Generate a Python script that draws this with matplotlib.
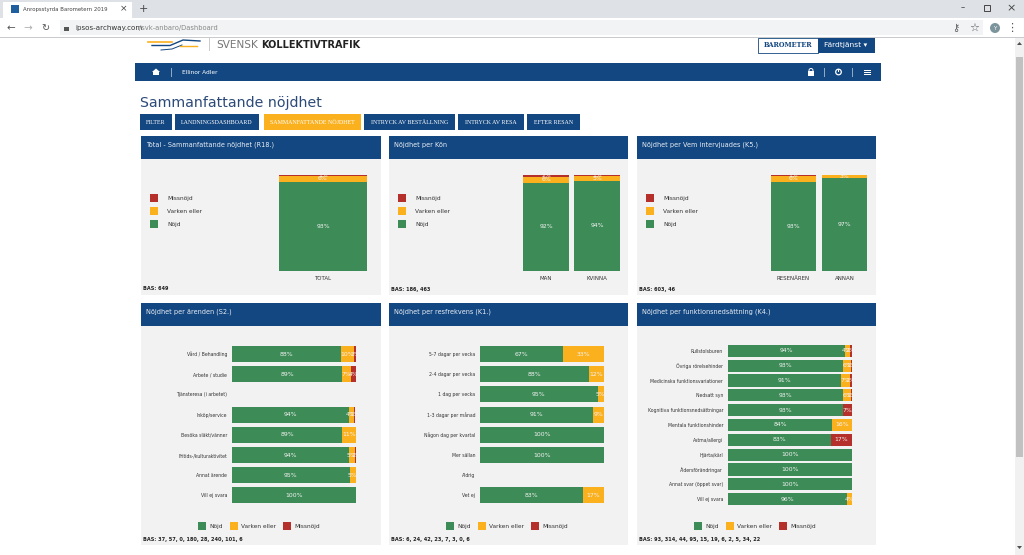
import matplotlib
matplotlib.use("Agg")
import matplotlib.pyplot as plt
from matplotlib.patches import Rectangle, Polygon, Circle

W, H = 1024, 555

NAVY = "#134781"
GREEN = "#3d8b57"
ORANGE = "#fbb01e"
RED = "#b5302a"
PANEL = "#f2f2f2"

# top row
total_cats = ["TOTAL"]
total_nojd = [93]
total_varken = [6]
total_miss = [1]

kon_cats = ["MAN", "KVINNA"]
kon_nojd = [92, 94]
kon_varken = [6, 5]
kon_miss = [2, 1]

vem_cats = ["RESENÄREN", "ANNAN"]
vem_nojd = [93, 97]
vem_varken = [6, 3]
vem_miss = [1, 0]

# bottom row
arende_cats = ["Vård / Behandling", "Arbete / studie", "Tjänsteresa (i arbetet)", "Inköp/service",
               "Besöka släkt/vänner", "Fritids-/kulturaktivitet", "Annat ärende", "Vill ej svara"]
arende_nojd = [88, 89, 0, 94, 89, 94, 95, 100]
arende_varken = [10, 7, 0, 4, 11, 5, 5, 0]
arende_miss = [3, 4, 0, 1, 0, 2, 0, 0]

frekvens_cats = ["5-7 dagar per vecka", "2-4 dagar per vecka", "1 dag per vecka", "1-3 dagar per månad",
                 "Någon dag per kvartal", "Mer sällan", "Aldrig", "Vet ej"]
frekvens_nojd = [67, 88, 95, 91, 100, 100, 0, 83]
frekvens_varken = [33, 12, 5, 9, 0, 0, 0, 17]
frekvens_miss = [0, 0, 0, 0, 0, 0, 0, 0]

funk_cats = ["Rullstolsburen", "Övriga rörelsehinder", "Medicinska funktionsvariationer", "Nedsatt syn",
             "Kognitiva funktionsnedsättningar", "Mentala funktionshinder", "Astma/allergi", "Hjärta/kärl",
             "Åldersförändringar", "Annat svar (öppet svar)", "Vill ej svara"]
funk_nojd = [94, 93, 91, 93, 93, 84, 83, 100, 100, 100, 96]
funk_varken = [4, 6, 7, 6, 0, 16, 0, 0, 0, 0, 4]
funk_miss = [2, 1, 2, 1, 7, 0, 17, 0, 0, 0, 0]

tabs = ["FILTER", "LANDNINGSDASHBOARD", "SAMMANFATTANDE NÖJDHET", "INTRYCK AV BESTÄLLNING",
        "INTRYCK AV RESA", "EFTER RESAN"]
tab_left = [140, 175, 264, 364, 458, 527]
tab_right = [172, 259, 361, 455, 524, 580]


def box(x0, y0, x1, y1, color, **kw):
    bg.add_patch(Rectangle((x0, y0), x1 - x0, y1 - y0, facecolor=color, edgecolor="none", **kw))


def label(x, y, s, size=4.5, color="#333333", ha="left", **kw):
    bg.text(x, y, s, fontsize=size, color=color, ha=ha, va="center", **kw)


def new_axes(x0, y0, x1, y1):
    ax = fig.add_axes([x0 / W, 1 - y1 / H, (x1 - x0) / W, (y1 - y0) / H])
    ax.patch.set_alpha(0)
    for s in ax.spines.values():
        s.set_visible(False)
    ax.tick_params(length=0, pad=3.5, labelsize=3.35, labelcolor="#333333")
    return ax


def put_pct(ax, bars, horizontal):
    for b in bars:
        if horizontal:
            v = b.get_width()
            x, y = b.get_x() + v / 2, b.get_y() + b.get_height() / 2
        else:
            v = b.get_height()
            x, y = b.get_x() + b.get_width() / 2, b.get_y() + v / 2
        if v > 0:
            ax.text(x, y, f"{v}%", color="#f4f4f4", fontsize=4.4, ha="center", va="center")


def column_chart(x0, x1, cats, nojd, varken, miss, leg_x, width=0.9):
    ax = new_axes(x0, 175, x1, 271)
    a = ax.bar(cats, nojd, width=width, color=GREEN, label="Nöjd")
    bottom = [n for n in nojd]
    b = ax.bar(cats, varken, width=width, bottom=bottom, color=ORANGE, label="Varken eller")
    bottom = [n + v for n, v in zip(nojd, varken)]
    c = ax.bar(cats, miss, width=width, bottom=bottom, color=RED, label="Missnöjd")
    ax.set_ylim(0, 100)
    ax.set_xlim(-0.5, len(cats) - 0.5)
    ax.set_yticks([])
    ax.tick_params(axis="x", labelsize=3.95, pad=3.3)
    for bars in (a, b, c):
        put_pct(ax, bars, False)
    ax.legend(handles=[c, b, a], loc="center left", bbox_to_anchor=(leg_x / W, 1 - 211 / H),
              bbox_transform=fig.transFigure, frameon=False, fontsize=4.2, labelcolor="#333333",
              handlelength=1.4, handleheight=1.72, handletextpad=1.55, labelspacing=0.91,
              borderpad=0, borderaxespad=0)


def row_chart(x0, x1, y0, y1, cats, nojd, varken, miss, height, leg_x):
    ax = new_axes(x0, y0, x1, y1)
    a = ax.barh(cats, nojd, height=height, color=GREEN, label="Nöjd")
    b = ax.barh(cats, varken, height=height, left=nojd, color=ORANGE, label="Varken eller")
    left = [n + v for n, v in zip(nojd, varken)]
    c = ax.barh(cats, miss, height=height, left=left, color=RED, label="Missnöjd")
    ax.set_xlim(0, 100)
    ax.set_ylim(len(cats) - 0.5, -0.5)
    ax.set_xticks([])
    for bars in (a, b, c):
        put_pct(ax, bars, True)
    ax.legend(handles=[a, b, c], loc="center left", bbox_to_anchor=(leg_x / W, 1 - 526 / H),
              bbox_transform=fig.transFigure, frameon=False, ncol=3, fontsize=4.2, labelcolor="#333333",
              handlelength=1.4, handleheight=1.72, handletextpad=0.55, columnspacing=1.2,
              borderpad=0, borderaxespad=0)


fig = plt.figure(figsize=(W / 100, H / 100), dpi=100, facecolor="white")
bg = fig.add_axes([0, 0, 1, 1])
bg.set_xlim(0, W)
bg.set_ylim(H, 0)
bg.axis("off")

# browser chrome
box(0, 0, W, 18, "#dee1e6")
box(3, 2, 132, 18, "white")
box(0, 18, W, 37, "white")
box(60, 20, 983, 35, "#f1f3f4")
box(0, 37, W, 38, "#c8cacd")
box(11, 5, 19, 13, "#1f5f9e")
label(23, 9, "Anropsstyrda Barometern 2019", size=3.9, color="#444444")
label(124, 9, "×", size=6.5, color="#444444", ha="center")
label(143, 9, "+", size=8, color="#444444", ha="center")
label(11, 28, "←", size=7.5, color="#555555", ha="center")
label(28, 28, "→", size=7.5, color="#b0b0b0", ha="center")
label(45, 28, "↻", size=7, color="#555555", ha="center")
box(64, 27, 69, 31, "#555555")
label(75, 28, "ipsos-archway.com", size=5.1, color="#333333")
label(139, 28, "/svk-anbaro/Dashboard", size=4.9, color="#888888")
label(963, 8, "–", size=6, color="#444444", ha="center")
bg.add_patch(Rectangle((984, 5), 6, 6, facecolor="none", edgecolor="#444444", lw=0.7))
label(1011, 8, "×", size=8, color="#444444", ha="center")
label(956, 28, "⚷", size=7, color="#555555", ha="center")
label(974, 28, "☆", size=8, color="#555555", ha="center")
bg.add_patch(Circle((995, 28), 5, facecolor="#7c949c", edgecolor="none"))
label(995, 28, "Y", size=4, color="white", ha="center")
label(1012, 28, "⋮", size=8, color="#555555", ha="center")

# scrollbar
box(1015, 38, W, H, "#f1f1f1")
box(1016, 57, 1023, 457, "#c1c1c1")
bg.add_patch(Polygon([(1017, 45), (1019.5, 42), (1022, 45)], facecolor="#505050", edgecolor="none"))
bg.add_patch(Polygon([(1017, 546), (1019.5, 549), (1022, 546)], facecolor="#505050", edgecolor="none"))

# site header
bg.plot([148, 172], [41.5, 41.5], color=ORANGE, lw=1.2)
bg.plot([152, 170, 183, 200], [45.5, 45.5, 40, 41], color=NAVY, lw=1.0)
bg.plot([161, 172, 182], [50, 49, 45], color=NAVY, lw=0.7)
bg.plot([180, 197], [46, 46], color=ORANGE, lw=1.0)
box(209, 38, 210, 51, "#cccccc")
label(216, 44.5, "SVENSK", size=7.6, color="#777777")
label(261, 44.5, "KOLLEKTIVTRAFIK", size=7.0, color="#222222", fontweight="bold")
bg.add_patch(Rectangle((757.5, 38), 60, 15, facecolor="white", edgecolor=NAVY, lw=0.6))
label(788, 45, "BAROMETER", size=4.7, color=NAVY, ha="center", family="DejaVu Serif", fontweight="bold")
box(818, 38, 875, 53, NAVY)
label(846, 45, "Färdtjänst ▾", size=5.4, color="white", ha="center")

# nav bar
box(135, 63, 881, 81, NAVY)
bg.add_patch(Polygon([(152, 72), (156, 68.5), (160, 72), (159, 72), (159, 75), (153, 75), (153, 72)],
                     facecolor="white", edgecolor="none"))
box(171, 68, 171.6, 77, "#8fa8c6")
label(182, 72.5, "Ellinor Adler", size=4.2, color="white")
box(808, 71, 814, 76, "white")
bg.add_patch(Circle((811, 70.5), 2, facecolor="none", edgecolor="white", lw=0.7))
box(824, 68, 824.6, 77, "#8fa8c6")
bg.add_patch(Circle((838.5, 72), 2.8, facecolor="none", edgecolor="white", lw=0.9))
box(838, 68.5, 839, 72, "white")
box(852, 68, 852.6, 77, "#8fa8c6")
for y in (69.5, 71.5, 73.5):
    box(864, y, 871, y + 1, "white")

label(139.5, 103, "Sammanfattande nöjdhet", size=10.2, color="#2c4a78")

for name, x0, x1 in zip(tabs, tab_left, tab_right):
    box(x0, 114, x1, 130, ORANGE if name == "SAMMANFATTANDE NÖJDHET" else NAVY)
    label((x0 + x1) / 2, 122, name, size=4.3, color="white", ha="center", family="Liberation Serif")

# panels
top_titles = ["Total - Sammanfattande nöjdhet (R18.)", "Nöjdhet per Kön", "Nöjdhet per Vem intervjuades (K5.)"]
top_bas = ["BAS: 649", "BAS: 186, 463", "BAS: 603, 46"]
bot_titles = ["Nöjdhet per ärenden (S2.)", "Nöjdhet per resfrekvens (K1.)", "Nöjdhet per funktionsnedsättning (K4.)"]
bot_bas = ["BAS: 37, 57, 0, 180, 28, 240, 101, 6", "BAS: 6, 24, 42, 23, 7, 3, 0, 6",
           "BAS: 93, 314, 44, 95, 15, 19, 6, 2, 5, 34, 22"]
panel_left = [141, 389, 637]
panel_right = [381, 628, 876]

for i in range(3):
    x0, x1 = panel_left[i], panel_right[i]
    box(x0, 136, x1, 295, PANEL)
    box(x0, 136, x1, 159, NAVY)
    label(x0 + 5, 144.5, top_titles[i], size=4.7, color="#e8eef6")
    label(x0 + 2, 289, top_bas[i], size=3.65, color="#222222", fontweight="bold")
    box(x0, 303, x1, 545, PANEL)
    box(x0, 303, x1, 326, NAVY)
    label(x0 + 5, 312, bot_titles[i], size=4.7, color="#e8eef6")
    label(x0 + 2, 540, bot_bas[i], size=3.65, color="#222222", fontweight="bold")

column_chart(279, 367, total_cats, total_nojd, total_varken, total_miss, 150, width=1.0)
column_chart(520.5, 622.5, kon_cats, kon_nojd, kon_varken, kon_miss, 398)
column_chart(768, 870, vem_cats, vem_nojd, vem_varken, vem_miss, 646)

row_chart(232, 356, 344, 505.5, arende_cats, arende_nojd, arende_varken, arende_miss, 0.79, 198)
row_chart(480, 604, 344, 505.5, frekvens_cats, frekvens_nojd, frekvens_varken, frekvens_miss, 0.79, 446)
row_chart(728, 852, 343.5, 506.5, funk_cats, funk_nojd, funk_varken, funk_miss, 0.82, 694)

fig.savefig("out.png", dpi=100)
